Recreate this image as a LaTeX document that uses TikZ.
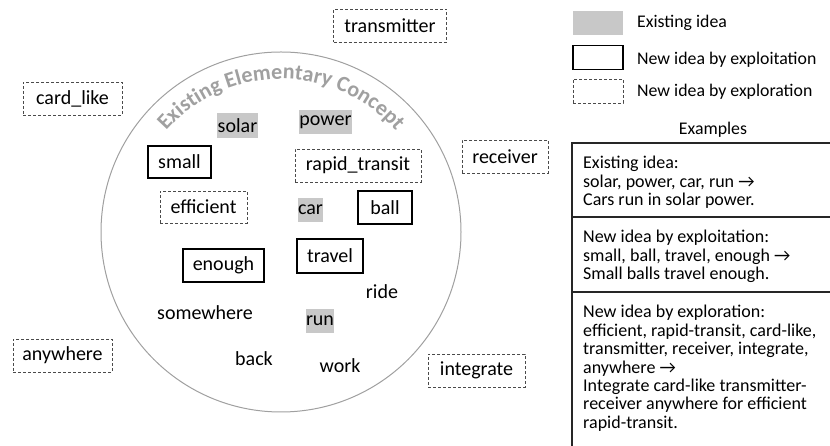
\documentclass[tikz,border=0pt]{standalone}
\usepackage{fontspec}
\setmainfont{Carlito}
\usetikzlibrary{decorations.text}
\definecolor{exgray}{HTML}{C8C8C8}
\definecolor{ringgray}{HTML}{A0A0A0}
\definecolor{dashgray}{HTML}{4A4A4A}
\begin{document}
\begin{tikzpicture}[x=1pt,y=1pt,
  word/.style={font=\fontsize{20}{24}\selectfont, inner sep=0pt},
  exist/.style={word, fill=exgray},
  exploit/.style={word, draw=black, line width=1.6pt},
  explore/.style={word, draw=dashgray, line width=0.9pt, dash pattern=on 3pt off 2pt},
  legbox/.style={minimum width=50pt, minimum height=24pt, inner sep=0pt},
  legtext/.style={font=\fontsize{17.8}{20}\selectfont, anchor=west, inner sep=0pt},
  tabline/.style={font=\fontsize{18}{18.4}\selectfont, anchor=base west, inner sep=0pt},
  rule/.style={draw=black!85, line width=1.1pt}
]
\useasboundingbox (0,0) rectangle (830,446);

% ring of existing elementary concepts
\draw[ringgray, line width=1pt] (281,214) circle (180);
\path[decorate, decoration={text along path, text align=center,
  text={|\fontsize{22}{22}\selectfont\bfseries\color{ringgray}|Existing Elementary Concept}}]
  (281,214) ++(170:153) arc[start angle=170, end angle=10, radius=153];

% words
\node[explore, minimum width=113pt, minimum height=33pt] (transmitter) at (390,420.5) {transmitter};
\node[explore, minimum width=99pt, minimum height=33pt] (cardlike) at (72.5,347.5) {card\_like};
\node[exist, minimum width=41pt, minimum height=25pt] (solar) at (237.5,320.5) {solar};
\node[exist, minimum width=53pt, minimum height=24pt] (power) at (325.5,324) {power};
\node[exploit, minimum width=63pt, minimum height=32pt] (small) at (179.5,284) {small};
\node[explore, minimum width=126pt, minimum height=33pt] (rapid) at (358,280.5) {rapid\_transit};
\node[explore, minimum width=86pt, minimum height=33pt] (receiver) at (505,289.5) {receiver};
\node[explore, minimum width=87pt, minimum height=32pt] (efficient) at (203.5,239) {efficient};
\node[exist, minimum width=25pt, minimum height=24pt] (car) at (310.5,236) {car};
\node[exploit, minimum width=54pt, minimum height=33pt] (ball) at (385,238.5) {ball};
\node[exploit, minimum width=81pt, minimum height=33pt] (enough) at (223.5,180.5) {enough};
\node[exploit, minimum width=66pt, minimum height=34pt] (travel) at (330,190) {travel};
\node[word] (ride) at (382,154) {ride};
\node[word] (somewhere) at (205,133) {somewhere};
\node[exist, minimum width=28pt, minimum height=24pt] (run) at (320,125) {run};
\node[explore, minimum width=99pt, minimum height=33pt] (anywhere) at (62.5,90.5) {anywhere};
\node[word] (back) at (254,87) {back};
\node[word] (work) at (340,80) {work};
\node[explore, minimum width=97pt, minimum height=33pt] (integrate) at (476.5,75.5) {integrate};

% legend
\node[legbox, fill=exgray] (lgA) at (598,423) {};
\node[legbox, draw=black, line width=1.6pt] (lgB) at (598,388.5) {};
\node[legbox, draw=dashgray, line width=0.9pt, dash pattern=on 3pt off 2pt] (lgC) at (598,355) {};
\node[legtext] (lgAt) at (637,423) {Existing idea};
\node[legtext] (lgBt) at (637,386.5) {New idea by exploitation};
\node[legtext] (lgCt) at (637,354) {New idea by exploration};
\node[font=\fontsize{17.8}{20}\selectfont, inner sep=0pt] (examples) at (713,316) {Examples};

% examples table
\draw[rule] (830,303) -- (572,303) -- (572,0);
\draw[rule] (572,229) -- (830,229);
\draw[rule] (572,154) -- (830,154);
\node[tabline] (l1) at (583,277) {Existing idea:};
\node[tabline] (l2) at (583,258.6) {solar, power, car, run →};
\node[tabline] (l3) at (583,240.2) {Cars run in solar power.};
\node[tabline] (l4) at (583,203) {New idea by exploitation:};
\node[tabline] (l5) at (583,184.6) {small, ball, travel, enough →};
\node[tabline] (l6) at (583,166.2) {Small balls travel enough.};
\node[tabline] (l7) at (583,128) {New idea by exploration:};
\node[tabline] (l8) at (583,109.6) {efficient, rapid-transit, card-like,};
\node[tabline] (l9) at (583,91.2) {transmitter, receiver, integrate,};
\node[tabline] (l10) at (583,72.8) {anywhere →};
\node[tabline] (l11) at (583,54.4) {Integrate card-like transmitter-};
\node[tabline] (l12) at (583,36) {receiver anywhere for efficient};
\node[tabline] (l13) at (583,17.6) {rapid-transit.};
\end{tikzpicture}
\end{document}
